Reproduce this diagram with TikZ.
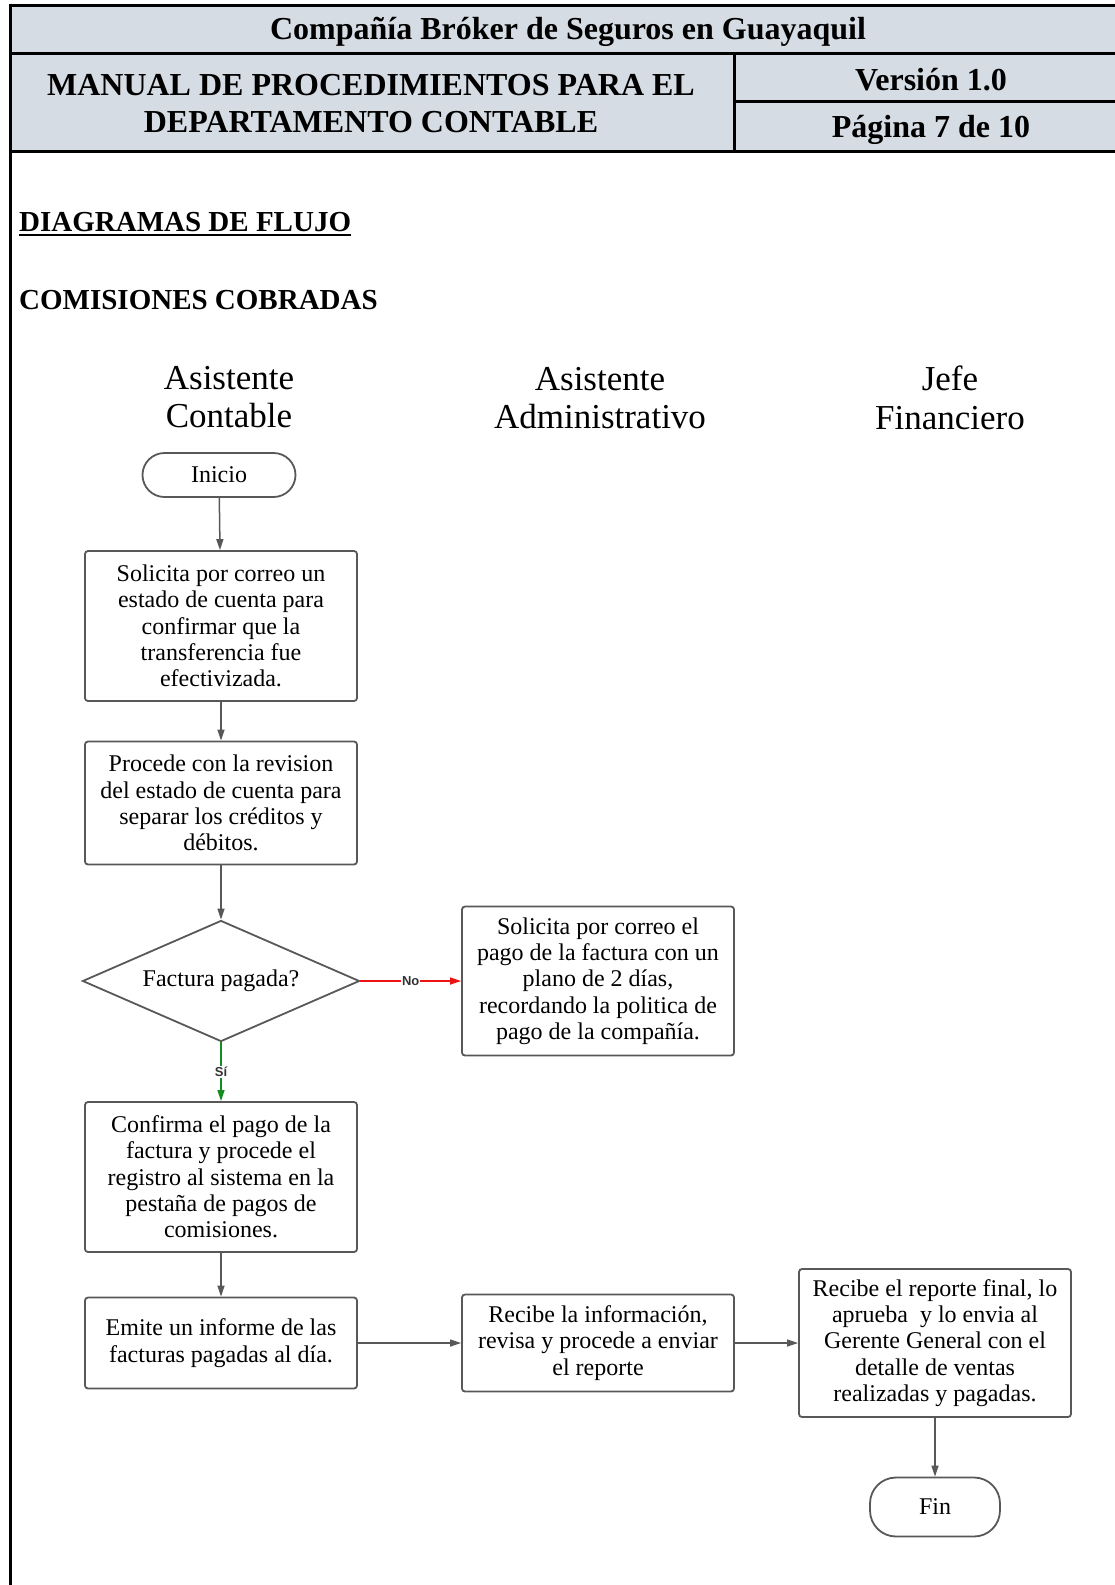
\documentclass[tikz,border=0pt]{standalone}
\usepackage{fontspec}
\setmainfont{Liberation Serif}
\newfontfamily\lblfont{Liberation Sans}
\usetikzlibrary{arrows.meta,positioning,shapes.geometric}
\usepackage{xcolor}
\definecolor{hdr}{RGB}{214,220,228}
\definecolor{ln}{RGB}{88,88,88}
\definecolor{nored}{RGB}{235,20,20}
\definecolor{sigreen}{RGB}{20,140,30}

\begin{document}
\begin{tikzpicture}[
    x=1pt,y=-1pt,
    hd/.style={font=\bfseries\fontsize{32}{37}\selectfont,align=center},
    tt/.style={font=\bfseries\fontsize{29}{32}\selectfont,anchor=west,inner sep=0pt},
    lane/.style={font=\fontsize{35}{38.4}\selectfont,align=center},
    box/.style={draw=ln,line width=1.8pt,rounded corners=3pt,minimum width=272pt,inner sep=0pt,align=center,font=\fontsize{24}{26.3}\selectfont},
    term/.style={box,rounded corners=22pt},
    dec/.style={diamond,draw=ln,line width=1.8pt,aspect=2.29,minimum width=277pt,minimum height=121pt,inner sep=0pt,font=\fontsize{24}{26.3}\selectfont},
    e/.style={-{Triangle[length=11pt,width=7pt]},line width=1.5pt,ln},
    noe/.style={e,nored},
    sie/.style={e,sigreen},
    lbl/.style={fill=white,inner sep=1pt,text=black!80,font=\lblfont\bfseries\fontsize{13}{13}\selectfont}
  ]
    \useasboundingbox (0,0) rectangle (1115,1585);
    % header
    \fill[hdr] (10,5) rectangle (1115,151);
    \draw[line width=3pt] (10,5) -- (1115,5) (10,53) -- (1115,53) (10,151) -- (1115,151)
      (734,53) -- (734,151) (734,101) -- (1115,101) (10,3.5) -- (10,1585);
    \node[hd] (cia) at (568,32) {Compañía Bróker de Seguros en Guayaquil};
    \node[hd] (man) at (371,104) {MANUAL DE PROCEDIMIENTOS PARA EL\\DEPARTAMENTO CONTABLE};
    \node[hd] (ver) at (931,80) {Versión 1.0};
    \node[hd] (pag) at (931,130) {Página 7 de 10};
    \node[tt] (dia) at (19,222) {DIAGRAMAS DE FLUJO};
    \draw[line width=2pt] ([yshift=-3.5pt]dia.base west) -- ([yshift=-3.5pt]dia.base east);
    \node[tt] (com) at (19,300) {COMISIONES COBRADAS};
    % lanes
    \node[lane] (l1) at (229,397) {Asistente\\Contable};
    \node[lane] (l2) at (600,398) {Asistente\\Administrativo};
    \node[lane] (l3) at (950,398) {Jefe\\Financiero};
    % flow
    \node[term,minimum width=153pt,minimum height=44pt] (ini) at (219,475) {Inicio};
    \node[box,minimum height=150pt] (b1) at (221,626) {Solicita por correo un\\estado de cuenta para\\confirmar que la\\transferencia fue\\efectivizada.};
    \node[box,minimum height=123pt] (b2) at (221,803) {Procede con la revision\\del estado de cuenta para\\separar los créditos y\\débitos.};
    \node[dec] (d1) at (221,981) {Factura pagada?};
    \node[box,minimum height=149pt] (b3) at (598,981) {Solicita por correo el\\pago de la factura con un\\plano de 2 días,\\recordando la politica de\\pago de la compañía.};
    \node[box,minimum height=150pt] (b4) at (221,1177) {Confirma el pago de la\\factura y procede el\\registro al sistema en la\\pestaña de pagos de\\comisiones.};
    \node[box,minimum height=91pt] (b5) at (221,1343) {Emite un informe de las\\facturas pagadas al día.};
    \node[box,minimum height=97pt] (b6) at (598,1343) {Recibe la información,\\revisa y procede a enviar\\el reporte};
    \node[box,minimum height=148pt] (b7) at (935,1343) {Recibe el reporte final, lo\\aprueba \ y lo envia al\\Gerente General con el\\detalle de ventas\\realizadas y pagadas.};
    \node[term,minimum width=130pt,minimum height=59pt,rounded corners=26pt] (fin) at (935,1507) {Fin};
    \foreach \s/\t in {ini/b1,b1/b2,b2/d1,b4/b5,b5/b6,b6/b7,b7/fin} {\draw[e] (\s)--(\t);}
    \draw[noe] (d1) -- node[lbl] {No} (b3);
    \draw[sie] (d1) -- node[lbl] {Sí} (b4);
  \end{tikzpicture}
\end{document}
